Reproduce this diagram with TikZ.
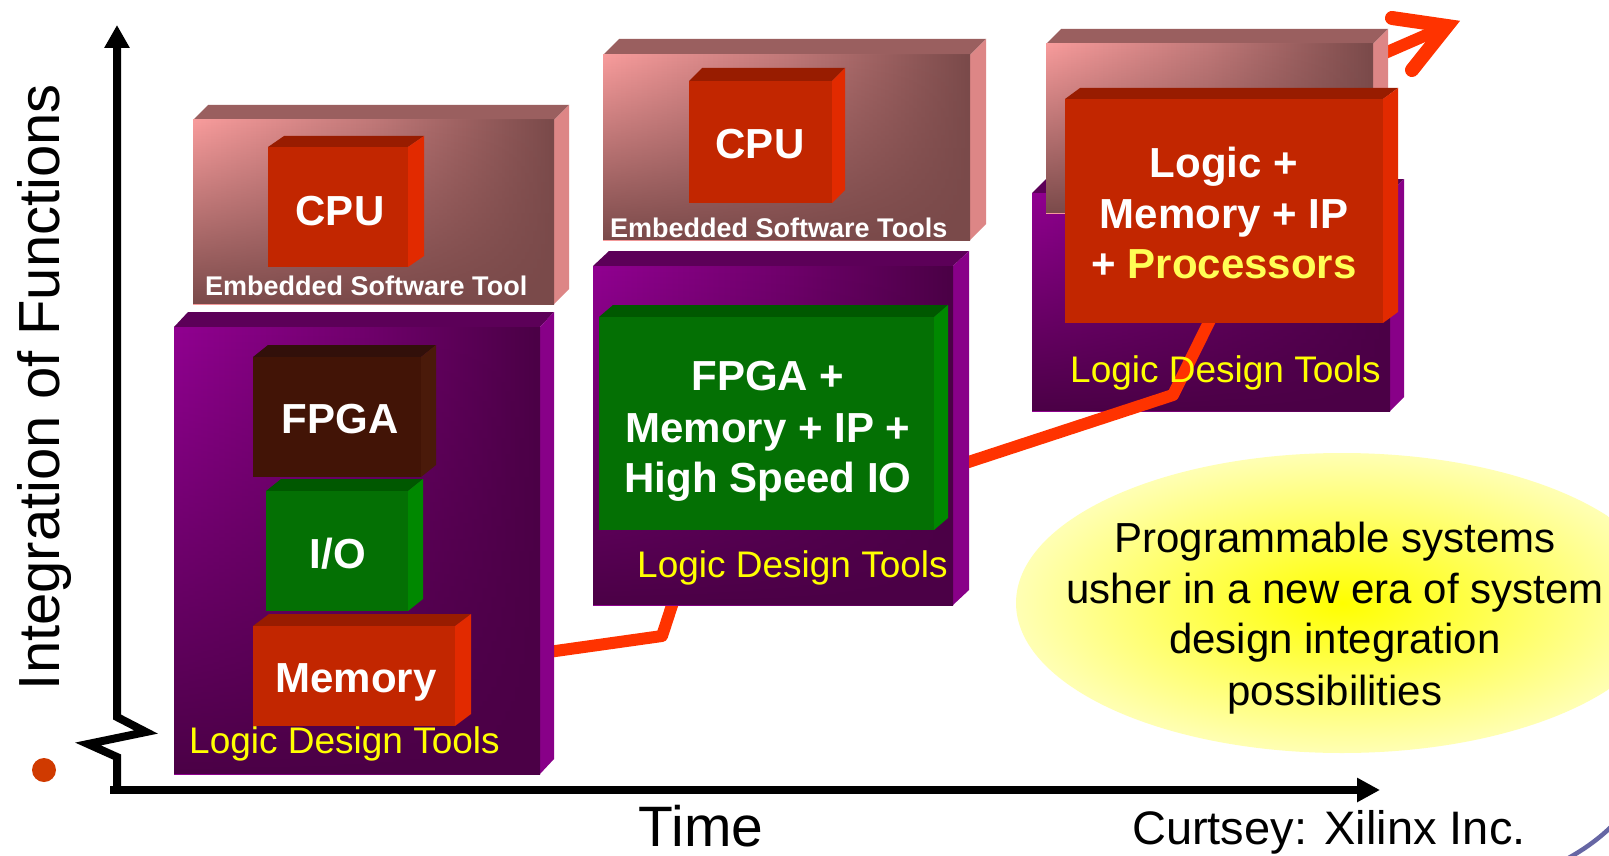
\documentclass[tikz,border=0pt]{standalone}
\usepackage{fontspec}
\setmainfont{Liberation Sans}
\usetikzlibrary{fadings,arrows.meta}
\definecolor{pinkL}{HTML}{F89C9C}
\definecolor{pinkM}{HTML}{C07878}
\definecolor{pinkD}{HTML}{7A4A4A}
\definecolor{pinkTop}{HTML}{9A5F5F}
\definecolor{pinkSide}{HTML}{DD8686}
\definecolor{purL}{HTML}{910091}
\definecolor{purM}{HTML}{72006E}
\definecolor{purD}{HTML}{4B0046}
\definecolor{purTop}{HTML}{5C0058}
\definecolor{purSide}{HTML}{880088}
\definecolor{redF}{HTML}{C22600}
\definecolor{redTop}{HTML}{981C00}
\definecolor{redSide}{HTML}{E22A00}
\definecolor{brnF}{HTML}{421406}
\definecolor{brnTop}{HTML}{32100A}
\definecolor{brnSide}{HTML}{4A1A0A}
\definecolor{grnF}{HTML}{047004}
\definecolor{grnTop}{HTML}{005800}
\definecolor{grnSide}{HTML}{008800}
\definecolor{trendR}{HTML}{FF3300}
\definecolor{ldtY}{HTML}{FFFF00}
\definecolor{procY}{HTML}{FFFF55}
\definecolor{ellC}{HTML}{FFFF00}
\definecolor{ellE}{HTML}{FFFFB4}
\definecolor{dotR}{HTML}{D03A00}
\definecolor{arcB}{HTML}{6666A4}
\tikzfading[name=fadebottom, top color=transparent!100, bottom color=transparent!0]
\newcommand{\cubefaces}[8]{%
  \fill[#7] (#1,#2) -- ({#1+#5},{#2-#6}) -- ({#3+#5},{#2-#6}) -- (#3,#2) -- cycle;
  \fill[#8] (#3,#2) -- ({#3+#5},{#2-#6}) -- ({#3+#5},{#4-#6}) -- (#3,#4) -- cycle;
}
\begin{document}
\begin{tikzpicture}[x=1pt,y=-1pt,
  pinkfront/.style={left color=pinkL, right color=pinkD, middle color=pinkM},
  purfront/.style={left color=purL, right color=purD, middle color=purM},
  pinkdark/.style={fill=pinkD, path fading=fadebottom},
  purdark/.style={fill=purD, path fading=fadebottom},
  cubelabel/.style={text=white, font=\fontsize{42}{50}\selectfont\bfseries, inner sep=0pt, anchor=base},
  embtext/.style={text=white, font=\fontsize{27}{30}\selectfont\bfseries, inner sep=0pt, anchor=base west},
  ldt/.style={text=ldtY, font=\fontsize{37}{40}\selectfont, inner sep=0pt, anchor=base west},
  elltext/.style={text=black, font=\fontsize{42}{50}\selectfont, inner sep=0pt, anchor=base},
  axisline/.style={line width=8pt, line join=miter},
  trend/.style={draw=trendR, line width=12pt, line join=round, line cap=round}
]
\useasboundingbox (0,0) rectangle (1609,856);
\clip (0,0) rectangle (1609,856);
\fill[white] (0,0) rectangle (1609,856);

% ellipse
\shade[inner color=ellC, outer color=ellE] (1342,603) ellipse [x radius=326pt, y radius=150pt];
\node[elltext] (e1) at (1335,552) {Programmable systems};
\node[elltext] (e2) at (1335,603) {usher in a new era of system};
\node[elltext] (e3) at (1335,653) {design integration};
\node[elltext] (e4) at (1335,705) {possibilities};

% right column purple box
\cubefaces{1032}{193}{1390}{411}{14}{14}{purTop}{purSide}
\shade[purfront] (1032,193) rectangle (1390,411);
\fill[purdark] (1032,193) rectangle (1390,411);

% trend line
\coordinate (t0) at (520,656);
\coordinate (t1) at (662,636);
\coordinate (t2) at (690,550);
\coordinate (t3) at (880,491);
\coordinate (t4) at (1173,395);
\coordinate (t5) at (1215,310);
\coordinate (t6) at (1300,90);
\coordinate (htip) at (1447,26);
\path[trend] (t0) -- (t1) -- (t2) -- (t3) -- (t4) -- (t5) -- (t6) -- (htip);
\coordinate (h1) at (1392,18);
\coordinate (h2) at (1412,70);
\draw[draw=trendR, line width=14pt, line cap=round, line join=miter] (h1) -- (htip) -- (h2);

\node[ldt] (ldtC) at (1070,382) {Logic Design Tools};

% left column
\cubefaces{193}{120}{554}{304}{15}{15}{pinkTop}{pinkSide}
\shade[pinkfront] (193,120) rectangle (554,304);
\fill[pinkdark] (193,120) rectangle (554,304);
\cubefaces{268}{147}{408}{267}{16}{11}{redTop}{redSide}
\fill[redF] (268,147) rectangle (408,267);
\node[cubelabel] (cpuA) at (340,225) {CPU};
\node[embtext] (embA) at (205,295) {Embedded Software Tool};

\cubefaces{174}{327}{540}{774}{14}{15}{purTop}{purSide}
\shade[purfront] (174,327) rectangle (540,774);
\fill[purdark] (174,327) rectangle (540,774);
\cubefaces{253}{357}{421}{477}{15}{12}{brnTop}{brnSide}
\fill[brnF] (253,357) rectangle (421,477);
\node[cubelabel] (fpgaA) at (340,433) {FPGA};
\cubefaces{266}{491}{408}{611}{15}{12}{grnTop}{grnSide}
\fill[grnF] (266,491) rectangle (408,611);
\node[cubelabel] (ioA) at (338,568) {I/O};
\cubefaces{253}{626}{455}{726}{16}{12}{redTop}{redSide}
\fill[redF] (253,626) rectangle (455,726);
\node[cubelabel] (memA) at (356,692) {Memory};
\node[ldt] (ldtA) at (189,753) {Logic Design Tools};

% middle column
\cubefaces{603}{55}{970}{240}{16}{16}{pinkTop}{pinkSide}
\shade[pinkfront] (603,55) rectangle (970,240);
\fill[pinkdark] (603,55) rectangle (970,240);
\cubefaces{689}{81}{832}{203}{13}{13}{redTop}{redSide}
\fill[redF] (689,81) rectangle (832,203);
\node[cubelabel] (cpuB) at (760,158) {CPU};
\node[embtext] (embB) at (610,237) {Embedded Software Tools};

\cubefaces{593}{266}{953}{605}{16}{15}{purTop}{purSide}
\shade[purfront] (593,266) rectangle (953,605);
\fill[purdark] (593,266) rectangle (953,605);
\cubefaces{599}{317}{934}{530}{14}{12}{grnTop}{grnSide}
\fill[grnF] (599,317) rectangle (934,530);
\node[cubelabel] (fB1) at (768,390) {FPGA +};
\node[cubelabel] (fB2) at (768,442) {Memory + IP +};
\node[cubelabel] (fB3) at (768,492) {High Speed IO};
\node[ldt] (ldtB) at (637,577) {Logic Design Tools};

% right column upper parts
\cubefaces{1046}{44}{1373}{213}{15}{15}{pinkTop}{pinkSide}
\shade[pinkfront] (1046,44) rectangle (1373,213);
\fill[pinkdark] (1046,44) rectangle (1373,213);
\cubefaces{1065}{99}{1383}{323}{15}{11}{redTop}{redSide}
\fill[redF] (1065,99) rectangle (1383,323);
\node[cubelabel] (lC1) at (1224,177) {Logic +};
\node[cubelabel] (lC2) at (1224,228) {Memory + IP};
\node[cubelabel] (lC3) at (1224,278) {+ \textcolor{procY}{Processors}};

% axes
\coordinate (origin) at (117,790);
\coordinate (ytip) at (117,25);
\coordinate (xstart) at (110,790);
\coordinate (xtip) at (1380,790);
\draw[axisline, -{Triangle[length=23pt,width=24pt]}] (origin) -- (117,757) -- (88,744) -- (146,732) -- (117,717) -- (ytip);
\draw[axisline, -{Triangle[length=23pt,width=23pt]}] (xstart) -- (xtip);

\node[rotate=90, anchor=base, inner sep=0pt, font=\fontsize{58}{60}\selectfont] (ylab) at (59,387) {Integration of Functions};
\node[anchor=base, inner sep=0pt, font=\fontsize{57}{60}\selectfont] (xlab) at (701,846) {Time};
\node[anchor=base west, inner sep=0pt, font=\fontsize{47}{50}\selectfont] (credit) at (1132,844) {Curtsey: Xilinx Inc.};
\fill[dotR] (44,770) circle [radius=12pt];
\draw[arcB, line width=4.5pt] (1565,860) .. controls (1585,849) and (1600,838) .. (1614,824);
\end{tikzpicture}
\end{document}
